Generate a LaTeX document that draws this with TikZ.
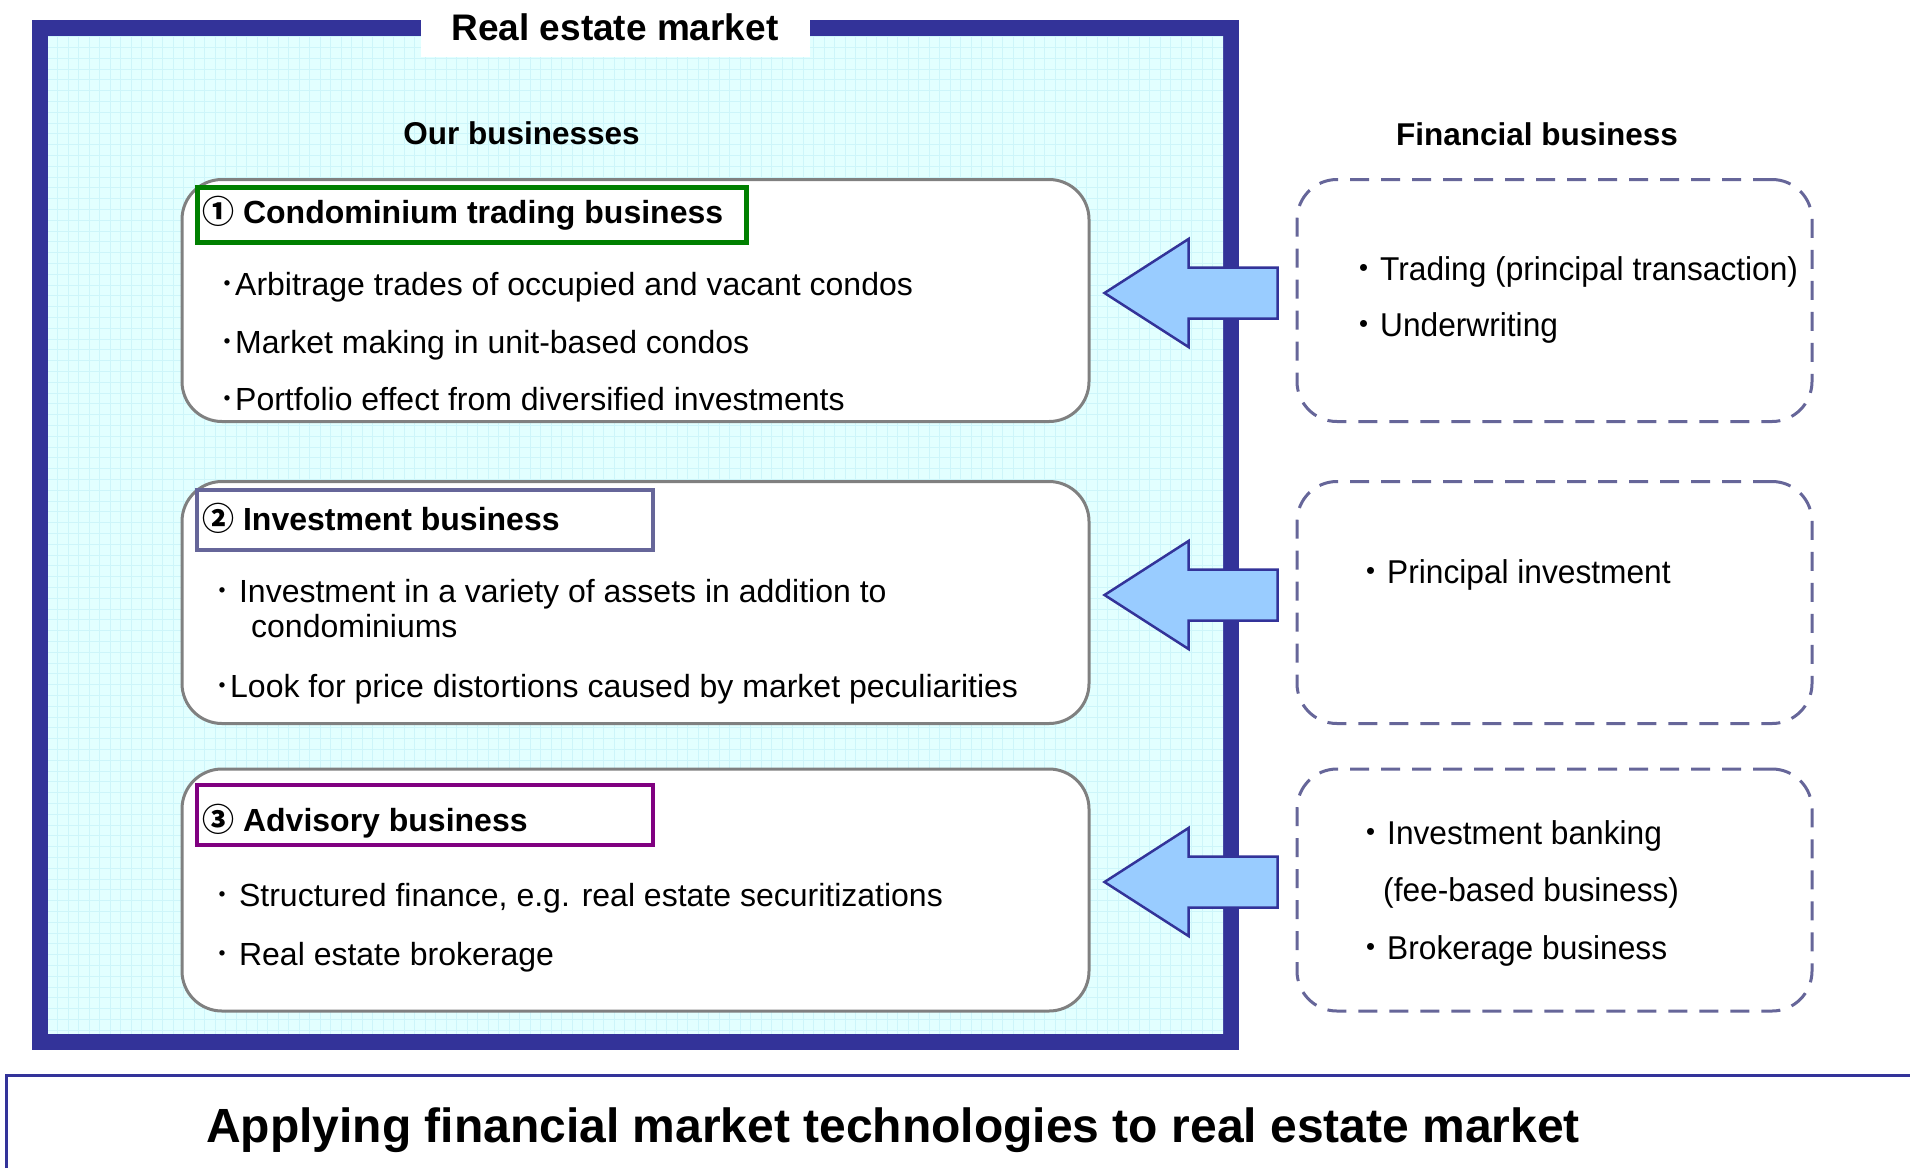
\documentclass[tikz,border=0pt]{standalone}
\usepackage{fontspec}
\setmainfont{Liberation Sans}
\newfontfamily\cjk{Noto Sans CJK JP}
\newfontfamily\widefont[FakeStretch=0.96]{Liberation Sans}
\usetikzlibrary{calc}

\definecolor{frameblue}{HTML}{333399}
\definecolor{cyanbg}{HTML}{E2FFFF}
\definecolor{gridcyan}{HTML}{CDF5FA}
\definecolor{boxgray}{HTML}{808080}
\definecolor{headgreen}{HTML}{008000}
\definecolor{headslate}{HTML}{666699}
\definecolor{headpurple}{HTML}{800080}
\definecolor{arrowfill}{HTML}{99CCFF}

% small bullet dots (halfwidth and fullwidth middle dot)
\newcommand\hdot{{\cjk ･}}
\newcommand\fdot{{\cjk ・}}

\tikzset{
  bizbox/.style={draw=boxgray, line width=3pt, fill=white, rounded corners=40pt,
    minimum width=907pt, minimum height=242pt, inner sep=0pt},
  finbox/.style={draw=headslate, line width=3pt, dash pattern=on 19pt off 12pt,
    rounded corners=40pt, minimum width=515pt, minimum height=242pt, inner sep=0pt},
  headbox/.style={line width=4.5pt, fill=white, inner sep=0pt},
  titletext/.style={font=\fontsize{37}{44}\selectfont\bfseries, inner sep=0pt},
  subtitle/.style={font=\fontsize{31.5}{38}\selectfont\bfseries, inner sep=0pt},
  headtext/.style={anchor=base west, font=\fontsize{32}{38}\selectfont\bfseries, inner sep=0pt},
  bodytext/.style={anchor=base west, font=\fontsize{32}{38}\selectfont, inner sep=0pt},
  fintext/.style={anchor=base west, font=\fontsize{33}{40}\selectfont\widefont, inner sep=0pt},
  gridline/.style={draw=gridcyan, line width=0.7pt},
  blockarrow/.style={draw=frameblue, line width=2.5pt, fill=arrowfill, line join=miter},
  larrow/.pic={\draw[blockarrow] (0,0) -- (84,-54) -- (84,-25.5) -- (173,-25.5)
      -- (173,25.5) -- (84,25.5) -- (84,54) -- cycle;}
}

\begin{document}
\begin{tikzpicture}[x=1pt,y=-1pt]
\useasboundingbox (0,0) rectangle (1910,1168);
\fill[white] (0,0) rectangle (1910,1168);

% real estate market frame with gridded background
\draw[line width=16pt, draw=frameblue, fill=cyanbg] (40,28) rectangle (1231,1042);
\begin{scope}
  \clip (48,36) rectangle (1223,1034);
  \foreach \gx in {57.8,68.3,...,1224} \draw[gridline] (\gx,36) -- (\gx,1034);
  \foreach \gy in {36.5,47.3,...,1035} \draw[gridline] (48,\gy) -- (1223,\gy);
\end{scope}
\fill[white] (421,0) rectangle (810,57);
\node[titletext, anchor=base] (title) at (615,40) {Real estate market};

% column headings
\node[subtitle, anchor=base] (ourbiz) at (521.5,144) {Our businesses};
\node[subtitle, anchor=base] (finbiz) at (1537,145) {Financial business};

% our businesses
\node[bizbox] (lb1) at (635.5,300.5) {};
\node[bizbox] (lb2) at (635.5,602.5) {};
\node[bizbox] (lb3) at (635.5,890) {};

\node[headbox, draw=headgreen, line width=5pt, minimum width=549pt, minimum height=55pt] (h1) at (472,215) {};
\node[headbox, draw=headslate, minimum width=456pt, minimum height=60pt] (h2) at (425,520) {};
\node[headbox, draw=headpurple, minimum width=456pt, minimum height=60pt] (h3) at (425,815) {};

\node[headtext] (h1t) at (202,223) {{\cjk ①} Condominium trading business};
\node[headtext] (h2t) at (202,530) {{\cjk ②} Investment business};
\node[headtext] (h3t) at (202,831) {{\cjk ③} Advisory business};

\node[bodytext] (b11) at (219,295) {\hdot Arbitrage trades of occupied and vacant condos};
\node[bodytext] (b12) at (219,353) {\hdot Market making in unit-based condos};
\node[bodytext] (b13) at (219,410) {\hdot Portfolio effect from diversified investments};

\node[bodytext] (b21) at (214,602) {\hdot{} Investment in a variety of assets in addition to};
\node[bodytext] (b22) at (251,637.5) {condominiums};
\node[bodytext] (b23) at (214,697) {\hdot Look for price distortions caused by market peculiarities};

\node[bodytext] (b31) at (214,906.5) {\hdot{} Structured finance, e.g. real estate securitizations};
\node[bodytext] (b32) at (214,965) {\hdot{} Real estate brokerage};

% financial business
\node[finbox] (rb1) at (1554.5,300.5) {};
\node[finbox] (rb2) at (1554.5,602.5) {};
\node[finbox] (rb3) at (1554.5,890) {};

\node[fintext] (f11) at (1347,280) {\fdot Trading (principal transaction)};
\node[fintext] (f12) at (1347,336) {\fdot Underwriting};
\node[fintext] (f21) at (1354,583) {\fdot Principal investment};
\node[fintext] (f31) at (1354,844) {\fdot Investment banking};
\node[fintext] (f32) at (1383,901) {(fee-based business)};
\node[fintext] (f33) at (1354,959) {\fdot Brokerage business};

% technology transfer arrows
\pic at ($(lb1.east)+(14,-7.5)$) {larrow};
\pic at ($(lb2.east)+(14,-7.5)$) {larrow};
\pic at ($(lb3.east)+(14,-8)$) {larrow};

% summary band
\draw[draw=frameblue, line width=3pt] (6,1168) -- (6,1075) -- (1910,1075);
\node[anchor=base, font=\fontsize{48}{56}\selectfont\bfseries, inner sep=0pt] (summary)
  at (893,1142) {Applying financial market technologies to real estate market};
\end{tikzpicture}
\end{document}
